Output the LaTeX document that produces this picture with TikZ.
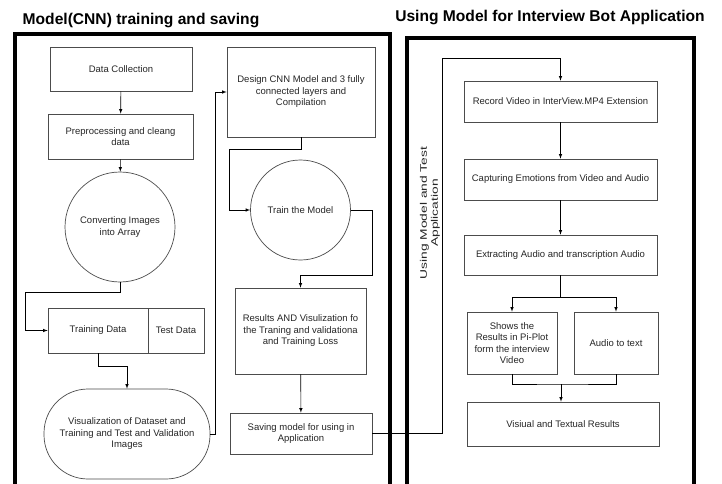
\documentclass[tikz,border=0pt]{standalone}
\usepackage{fontspec}
\setmainfont{Liberation Sans}
\usetikzlibrary{shapes,shapes.geometric,positioning}

\tikzset{
  box/.style={draw=black!70, line width=0.7pt, rectangle, align=center, inner sep=2pt,
    font=\fontsize{9.5}{11.5}\selectfont, text=black!85},
  roundbox/.style={box, circle, inner sep=0pt},
  pill/.style={box, rounded corners=44pt},
  conn/.style={draw, line width=0.6pt, -latex},
  panel/.style={draw, line width=3.6pt},
  ttl/.style={font=\fontsize{15.6}{18}\selectfont\bfseries},
  lbl/.style={align=center, font=\fontsize{9.5}{11}\selectfont\addfontfeatures{FakeStretch=1.45}, text=black!85}
}

\begin{document}
\begin{tikzpicture}[x=1pt,y=-1pt]
    \useasboundingbox (0,0) rectangle (722,484);
    \fill[white] (0,0) rectangle (722,484);

    % titles
    \node[ttl] (ttlmodel) at (141,21) {Model(CNN) training and saving};
    \node[ttl] (ttlapp) at (550,18) {Using Model for Interview Bot Application};

    % panels
    \draw[panel] (15,484) -- (15,34) -- (390,34) -- (390,484);
    \draw[panel] (407,484) -- (407,38) -- (694,38) -- (694,484);

    % data side
    \node[box, minimum width=142pt, minimum height=44pt] (collect) at (121,69) {Data Collection};
    \node[box, minimum width=145pt, minimum height=45pt] (prep) at (120.5,136.5) {Preprocessing and cleang\\data};
    \node[roundbox, minimum size=110pt] (convert) at (120,227) {Converting Images\\into Array};
    \node[box, minimum width=100pt, minimum height=45pt] (traindata) at (98,330.5) {Training Data};
    \node[box, minimum width=56pt, minimum height=45pt] (testdata) at (176,330.5) {Test Data};
    \node[pill, minimum width=166pt, minimum height=90pt] (visual) at (127,434) {Visualization of Dataset and\\Training and Test and Validation\\Images};

    % model side
    \node[box, minimum width=148pt, minimum height=90pt] (design) at (301,92) {Design CNN Model and 3 fully\\connected layers and\\Compilation};
    \node[roundbox, minimum size=100pt] (fit) at (300.5,210) {Train the Model};
    \node[box, minimum width=131pt, minimum height=86pt] (results) at (300.5,331) {Results AND Visulization fo\\the Traning and validationa\\and Training Loss};
    \node[box, minimum width=142pt, minimum height=41pt] (save) at (301,433.5) {Saving model for using in\\Application};

    % application side
    \node[box, minimum width=193pt, minimum height=41pt] (record) at (560.5,101.5) {Record Video in InterView.MP4 Extension};
    \node[box, minimum width=193pt, minimum height=41pt] (capture) at (560.5,179.5) {Capturing Emotions from Video and Audio};
    \node[box, minimum width=193pt, minimum height=40pt] (extract) at (560.5,255) {Extracting Audio and transcription Audio};
    \node[box, minimum width=90pt, minimum height=62pt] (pieplot) at (512,343) {Shows the\\Results in Pi-Plot\\form the interview\\Video};
    \node[box, minimum width=84pt, minimum height=62pt] (totext) at (616,343) {Audio to text};
    \node[box, minimum width=192pt, minimum height=44pt] (final) at (563,424) {Visiual and Textual Results};
    \node[lbl, rotate=90] (uselbl) at (430,213) {Using Model and Test\\Application};

    % connectors left
    \draw[conn] (collect) -- (prep);
    \draw[conn] (prep) -- (convert);
    \draw[conn] (convert.south) |- (25,292) |- (traindata.west);
    \draw[conn] (traindata.south) |- (127,366) -- (visual.north);
    \draw[conn] (visual.east) -| (215,92) -- (design.west);
    \draw[conn] (design.south) |- (229,149) |- (fit.west);
    \draw[conn] (fit.east) -| (372,275) -| (results.north);
    \draw[conn] (results) -- (save);

    % connectors right
    \draw[conn] (save.east) -| (442,58) -| (record.north);
    \draw[conn] (record) -- (capture);
    \draw[conn] (capture) -- (extract);
    \draw[conn] (extract.south) -- ++(0,22) -| (pieplot.north);
    \draw[conn] (extract.south) -- ++(0,22) -| (totext.north);
    \coordinate (merge) at (561,384);
    \draw[line width=0.6pt] (pieplot.south) |- (merge) -| (totext.south);
    \draw[conn] (merge) -- (merge |- final.north);
\end{tikzpicture}
\end{document}
